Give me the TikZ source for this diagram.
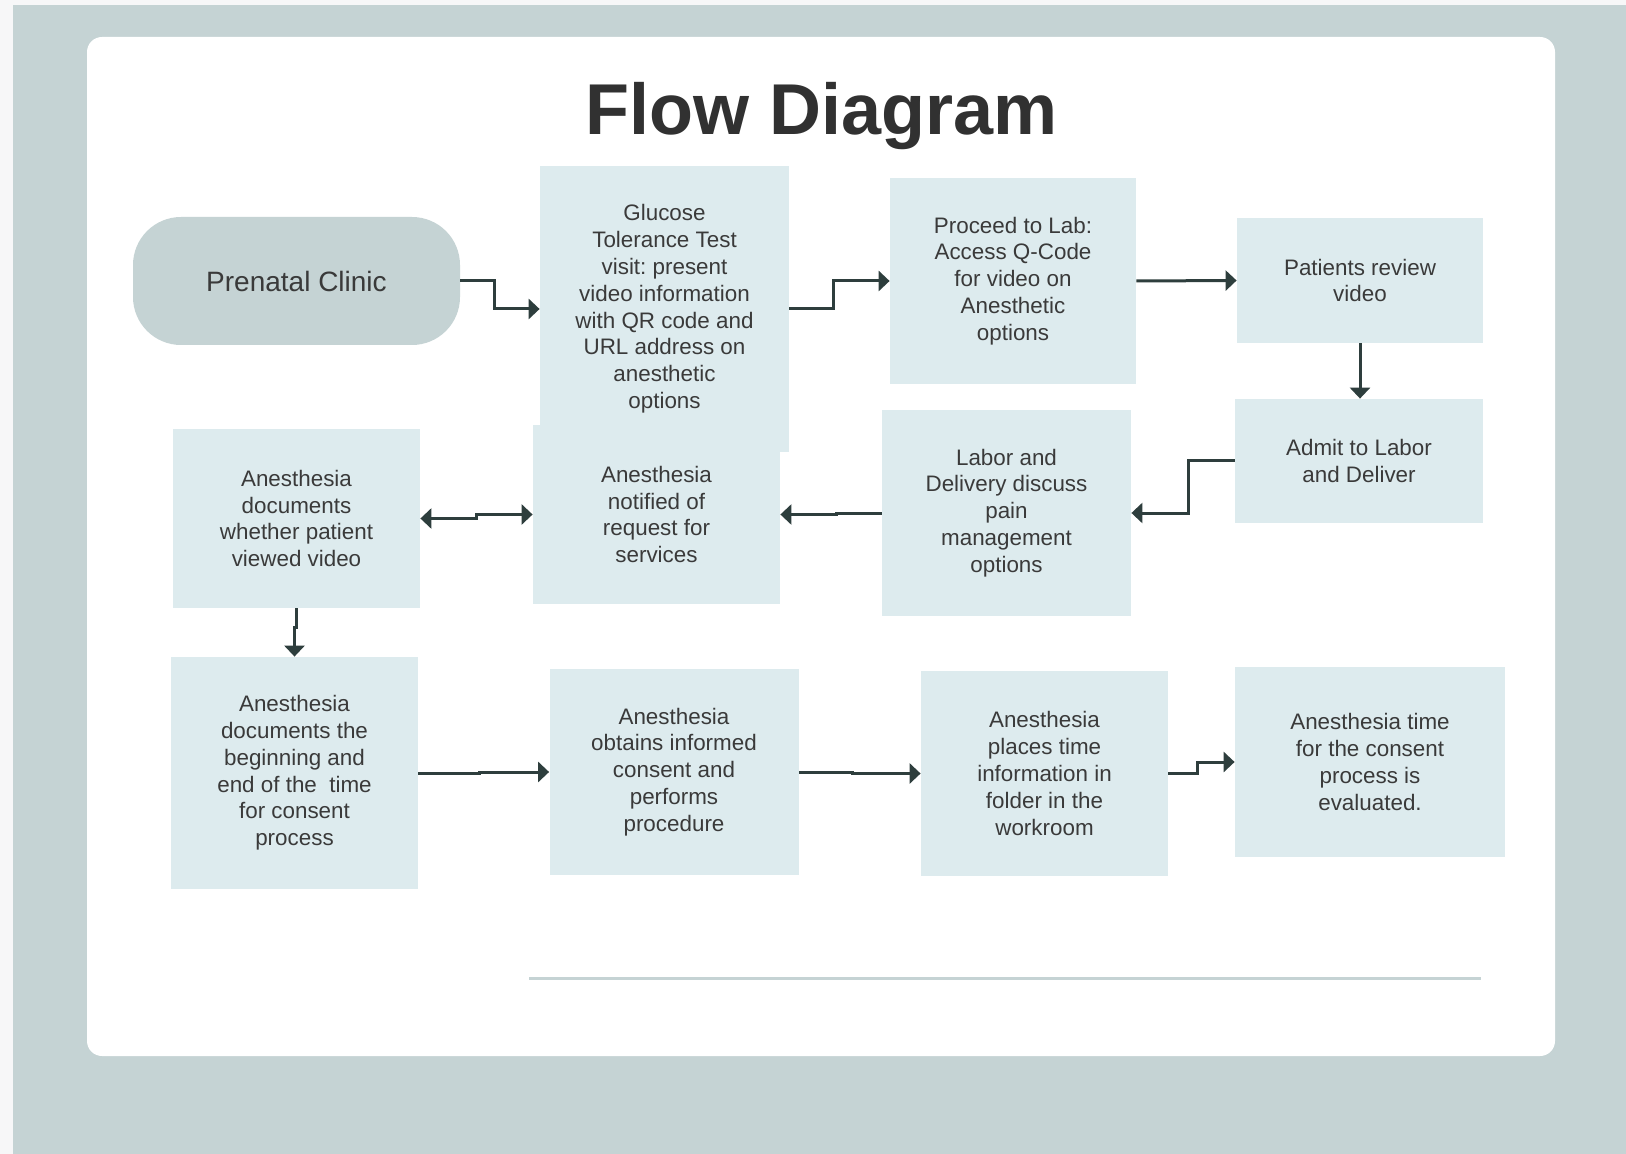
\documentclass[tikz,border=0pt]{standalone}
\usepackage{fontspec}
\setmainfont{Liberation Sans}
\usepackage{tikz}
\usetikzlibrary{positioning, arrows.meta, calc}
\frenchspacing

\definecolor{pagegray}{HTML}{C5D3D4}
\definecolor{boxfill}{HTML}{DDEBEE}
\definecolor{inkdark}{HTML}{2E3E3D}
\definecolor{textgray}{HTML}{3A3A3A}
\definecolor{edgewhite}{HTML}{F7F7F8}

\tikzset{
  box/.style={fill=boxfill, inner sep=0pt, align=center, text=textgray,
    font=\fontsize{11.2}{13.4}\selectfont},
  boxsize/.style 2 args={minimum width=#1*0.5pt, minimum height=#2*0.5pt},
  flow/.style={draw=inkdark, line width=1.5pt, -{Triangle[length=5.5pt,width=10pt]}},
  flowboth/.style={draw=inkdark, line width=1.5pt,
    {Triangle[length=5.5pt,width=10pt]}-{Triangle[length=5.5pt,width=10pt]}},
}

\begin{document}
\begin{tikzpicture}[x=0.5pt, y=-0.5pt]
\useasboundingbox (0,0) rectangle (1626,1154);
% Page background and white card
\fill[edgewhite] (0,0) rectangle (1626,1154);
\fill[pagegray] (13,5) rectangle (1626,1154);
\fill[white, rounded corners=7.5pt] (87,37) rectangle (1555,1056);

% Title
\node[anchor=base, text=textgray!85!black, font=\bfseries\fontsize{36}{40}\selectfont] (title) at (822,135) {Flow Diagram};

% Start
\node[fill=pagegray, rounded corners=24pt, inner sep=0pt, boxsize={327}{128}, text=textgray,
  font=\fontsize{14}{16}\selectfont] (clinic) at (296.5,281) {Prenatal Clinic};

% Top row
\node[box, boxsize={247}{179}] (notified) at (656.5,514.5) {Anesthesia\\notified of\\request for\\services};
\node[box, boxsize={249}{286}] (glucose) at (664.5,309) {Glucose\\Tolerance Test\\visit: present\\video information\\with QR code and\\URL address on\\anesthetic\\options};
\node[box, boxsize={246}{206}] (proceed) at (1013,281) {Proceed to Lab:\\Access Q-Code\\for video on\\Anesthetic\\options};
\node[box, boxsize={246}{125}] (review) at (1360,280.5) {Patients review\\video};

% Middle row
\node[box, boxsize={248}{124}] (admit) at (1359,461) {Admit to Labor\\and Deliver};
\node[box, boxsize={249}{206}] (labor) at (1006.5,513) {Labor and\\Delivery discuss\\pain\\management\\options};
\node[box, boxsize={247}{179}] (viewed) at (296.5,518.5) {Anesthesia\\documents\\whether patient\\viewed video};

% Bottom row
\node[box, boxsize={247}{232}] (consent) at (294.5,773) {Anesthesia\\documents the\\beginning and\\end of the\ \ time\\for consent\\process};
\node[box, boxsize={249}{206}] (obtains) at (674,772) {Anesthesia\\obtains informed\\consent and\\performs\\procedure};
\node[box, boxsize={247}{205}] (places) at (1044.5,773.5) {Anesthesia\\places time\\information in\\folder in the\\workroom};
\node[box, boxsize={270}{190}] (evaluated) at (1370,762) {Anesthesia time\\for the consent\\process is\\evaluated.};

% Connectors
\draw[flow] (clinic.east) -- ++(34,0) |- (glucose.west);
\draw[flow] (glucose.east) -- ++(44,0) |- (proceed.west);
\draw[flow] (proceed.east) -- (review.west);
\draw[flow] (review.south) -- (review.south |- admit.north);
\draw[flow] (admit.west) -- ++(-46,0) |- (labor.east);
\draw[flow] (labor.west) -- ++(-45,0) |- (notified.east);
\draw[flowboth] (viewed.east) -- ++(56,0) |- (notified.west);
\draw[flow] (viewed.south) -- ++(0,19) -| (consent.north);
\draw[flow] (consent.east) -- ++(61,0) |- (obtains.west);
\draw[flow] (obtains.east) -- ++(54,0) |- (places.west);
\draw[flow] (places.east) -- ++(29,0) |- (evaluated.west);

% Rule under the diagram
\draw[pagegray, line width=1.5pt] (529,978) -- (1481,978);
\end{tikzpicture}
\end{document}
